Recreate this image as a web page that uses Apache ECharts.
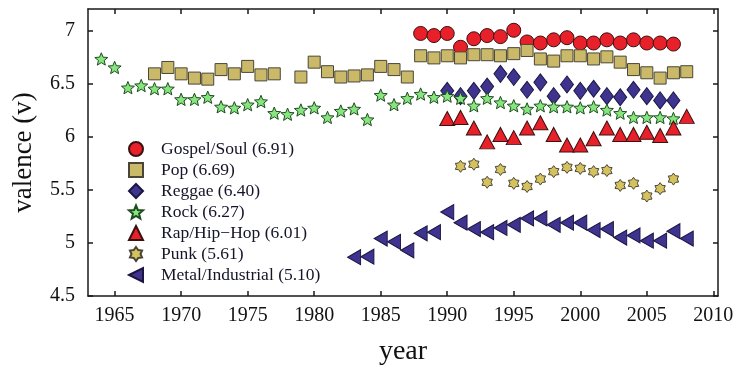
<!DOCTYPE html>
<html>
<head>
<meta charset="utf-8">
<script src="https://cdn.jsdelivr.net/npm/echarts@6/dist/echarts.min.js"></script>
<style>html,body{margin:0;padding:0;background:#fff}#c{width:740px;height:365px}</style>
</head>
<body>
<div id="c"></div>
<script>
// years 1964..2008
const years = [1964,1965,1966,1967,1968,1969,1970,1971,1972,1973,1974,1975,1976,1977,1978,1979,1980,1981,1982,1983,1984,1985,1986,1987,1988,1989,1990,1991,1992,1993,1994,1995,1996,1997,1998,1999,2000,2001,2002,2003,2004,2005,2006,2007,2008];
const xTicks = [1965,1970,1975,1980,1985,1990,1995,2000,2005,2010];
const yTicks = [4.5,5,5.5,6,6.5,7];
const seriesNames = ['Gospel/Soul (6.91)','Pop (6.69)','Reggae (6.40)','Rock (6.27)','Rap/Hip\u2212Hop (6.01)','Punk (5.61)','Metal/Industrial (5.10)'];

const gospel = [null,null,null,null,null,null,null,null,null,null,null,null,null,null,null,null,null,null,null,null,null,null,null,null,
  6.97,6.95,6.97,6.84,6.92,6.95,6.94,7.00,6.89,6.88,6.91,6.93,6.88,6.88,6.91,6.88,6.91,6.88,6.88,6.87,null];
const pop = [null,null,null,null,6.59,6.65,6.59,6.55,6.54,6.63,6.59,6.66,6.58,6.59,null,6.56,6.70,6.61,6.56,6.57,6.58,6.66,6.63,6.56,
  6.76,6.74,6.76,6.74,6.77,6.77,6.76,6.78,6.81,6.73,6.71,6.76,6.76,6.73,6.75,6.70,6.63,6.60,6.55,6.60,6.61];
const reggae = [null,null,null,null,null,null,null,null,null,null,null,null,null,null,null,null,null,null,null,null,null,null,null,null,
  null,null,6.43,6.38,6.43,6.47,6.59,6.56,6.44,6.51,6.38,6.49,6.43,6.45,6.38,6.37,6.44,6.38,6.34,6.34,null];
const rock = [6.73,6.65,6.46,6.48,6.45,6.45,6.35,6.35,6.37,6.28,6.27,6.30,6.33,6.22,6.21,6.25,6.27,6.18,6.24,6.26,6.16,6.39,6.30,6.36,
  6.40,6.37,6.38,6.36,6.29,6.36,6.32,6.29,6.26,6.29,6.28,6.28,6.27,6.28,6.25,6.22,6.18,6.18,6.18,6.17,null];
const rap = [null,null,null,null,null,null,null,null,null,null,null,null,null,null,null,null,null,null,null,null,null,null,null,null,
  null,null,6.17,6.18,6.08,5.95,6.02,5.99,6.08,6.13,6.02,5.92,5.92,5.98,6.08,6.02,6.02,6.04,6.01,6.08,6.19];
const punk = [null,null,null,null,null,null,null,null,null,null,null,null,null,null,null,null,null,null,null,null,null,null,null,null,
  null,null,null,5.72,5.74,5.57,5.69,5.56,5.53,5.60,5.67,5.71,5.70,5.67,5.68,5.54,5.56,5.44,5.51,5.60,null];
const metal = [null,null,null,null,null,null,null,null,null,null,null,null,null,null,null,null,null,null,null,4.865,4.87,5.04,5.01,4.93,
  5.09,5.10,5.29,5.19,5.13,5.10,5.14,5.17,5.23,5.23,5.17,5.19,5.19,5.12,5.13,5.05,5.07,5.02,5.02,5.11,5.04];

const STAR5 = 'path://M50 0 L62.93 32.2 L97.55 34.55 L70.92 56.8 L79.39 90.45 L50 72 L20.61 90.45 L29.08 56.8 L2.45 34.55 L37.07 32.2 Z';
const STAR6 = 'path://M50 0 L66 22 L93.3 25 L82 50 L93.3 75 L66 78 L50 100 L34 78 L6.7 75 L18 50 L6.7 25 L34 22 Z';
const LTRI = 'path://M0 50 L100 0 L100 100 Z';

function pairs(vals){ const out=[]; vals.forEach((v,i)=>{ if(v!==null) out.push([years[i], v]); }); return out; }

const styles = [
  {data:gospel, symbol:'circle', size:14, color:'#e8202a', border:'#3a1010'},
  {data:pop, symbol:'rect', size:12, color:'#cbb96a', border:'#4a4636'},
  {data:reggae, symbol:'diamond', size:[13,17], color:'#3e3490', border:'#1a1640'},
  {data:rock, symbol:STAR5, size:13, color:'#86e57e', border:'#1d4d1d'},
  {data:rap, symbol:'triangle', size:[15,14], color:'#e8202a', border:'#3a1010'},
  {data:punk, symbol:STAR6, size:12, color:'#d5c25e', border:'#4a4636'},
  {data:metal, symbol:LTRI, size:[13,15], color:'#3e3490', border:'#1a1640'}
];

const serif = '"Liberation Serif", "DejaVu Serif", serif';
const axisLine = {show:true, lineStyle:{color:'#1a1a1a', width:1.5}};
const tick = {show:true, inside:true, length:5, lineStyle:{color:'#1a1a1a', width:1.5}};

const chart = echarts.init(document.getElementById('c'));
chart.setOption({
  animation:false,
  backgroundColor:'#fff',
  grid:{left:88, right:22, top:9, bottom:69, outerBoundsMode:'none', containLabel:false},
  legend:{
    orient:'vertical', left:123, top:135, itemGap:3, itemWidth:14, itemHeight:14,
    data:seriesNames,
    textStyle:{fontFamily:serif, fontSize:17.5, color:'#15152a', padding:[0,0,0,13]}
  },
  xAxis:[{
    type:'value', min:1963, max:2010.35, position:'bottom',
    axisLine:axisLine, axisTick:Object.assign({customValues:xTicks}, tick), splitLine:{show:false},
    axisLabel:{customValues:xTicks, formatter:v=>String(v), fontFamily:serif, fontSize:20, color:'#111', margin:10},
    name:'year', nameLocation:'middle', nameGap:42,
    nameTextStyle:{fontFamily:serif, fontSize:28, color:'#111'}
  },{
    type:'value', min:1963, max:2010.35, position:'top',
    axisLine:axisLine, axisTick:Object.assign({customValues:xTicks}, tick), axisLabel:{show:false}, splitLine:{show:false}
  }],
  yAxis:[{
    type:'value', min:4.5, max:7.2, position:'left',
    axisLine:axisLine, axisTick:Object.assign({customValues:yTicks}, tick), splitLine:{show:false},
    axisLabel:{customValues:yTicks, formatter:v=>String(v), fontFamily:serif, fontSize:20, color:'#111', margin:13},
    name:'valence (v)', nameLocation:'middle', nameGap:51, nameRotate:90,
    nameTextStyle:{fontFamily:serif, fontSize:27, color:'#111'}
  },{
    type:'value', min:4.5, max:7.2, position:'right',
    axisLine:axisLine, axisTick:Object.assign({customValues:yTicks}, tick), axisLabel:{show:false}, splitLine:{show:false}
  }],
  series: styles.map((s,i)=>({
    name:seriesNames[i], type:'scatter', data:pairs(s.data),
    symbol:s.symbol, symbolSize:s.size, symbolKeepAspect:true,
    itemStyle:{color:s.color, borderColor:s.border, borderWidth:1, opacity:1},
    z: 2 + i
  }))
});
</script>
</body>
</html>
